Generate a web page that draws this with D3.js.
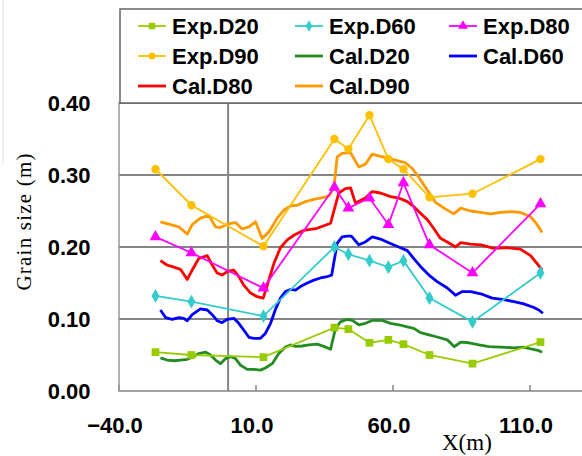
<!DOCTYPE html>
<html><head><meta charset="utf-8">
<script src="https://cdn.jsdelivr.net/npm/d3@7"></script>
<style>body{margin:0;background:#fff}svg{display:block}</style>
</head><body>
<svg id="c" width="582" height="456"></svg>
<script>
// ---- data ----
const xTicks = [-40, 10, 60, 110];
const yTicks = [0.0, 0.1, 0.2, 0.3, 0.4];
const expX = [-26.5, -13.4, 12.9, 38.8, 43.9, 51.6, 58.5, 64.0, 73.5, 89.2, 114.0];
const expD20 = [0.054, 0.050, 0.047, 0.088, 0.086, 0.067, 0.071, 0.065, 0.050, 0.038, 0.068];
const expD60 = [0.132, 0.124, 0.104, 0.200, 0.190, 0.181, 0.172, 0.181, 0.129, 0.096, 0.164];
const expD80 = [0.214, 0.192, 0.143, 0.283, 0.254, 0.268, 0.231, 0.289, 0.203, 0.164, 0.260];
const expD90 = [0.308, 0.258, 0.201, 0.350, 0.336, 0.383, 0.322, 0.308, 0.269, 0.274, 0.322];
const calD20 = [[-24.7,0.046],[-22.3,0.043],[-19.8,0.042],[-17.4,0.043],[-14.9,0.044],[-13.1,0.047],[-10.7,0.052],[-8.2,0.054],[-6.4,0.050],[-4.6,0.043],[-2.8,0.038],[-0.9,0.045],[0.9,0.048],[2.7,0.045],[4.5,0.036],[7.0,0.030],[9.4,0.030],[11.8,0.029],[13.6,0.032],[16.1,0.038],[18.5,0.052],[20.9,0.061],[22.8,0.064],[24.6,0.062],[27.0,0.0625],[29.5,0.064],[32.5,0.065],[34.9,0.062],[37.4,0.058],[39.2,0.087],[41.0,0.096],[43.5,0.0996],[45.3,0.098],[47.7,0.092],[50.1,0.094],[52.6,0.098],[56.2,0.098],[59.3,0.094],[62.3,0.092],[65.4,0.089],[67.8,0.087],[70.2,0.081],[73.3,0.078],[76.3,0.075],[80.0,0.071],[82.6,0.0615],[84.9,0.068],[87.9,0.067],[91.6,0.064],[95.2,0.0615],[99.5,0.061],[104.3,0.060],[107.9,0.061],[111.0,0.058],[113.4,0.056],[114.6,0.054]];
const calD60 = [[-24.7,0.1125],[-22.8,0.102],[-20.4,0.0996],[-18.0,0.102],[-16.2,0.101],[-14.9,0.0976],[-13.1,0.106],[-10.1,0.114],[-7.6,0.1125],[-5.8,0.106],[-4.0,0.0976],[-2.2,0.095],[-0.3,0.0996],[2.1,0.101],[3.9,0.094],[5.7,0.0847],[7.6,0.0746],[9.4,0.0732],[11.8,0.0732],[13.6,0.080],[15.5,0.094],[17.3,0.1135],[19.1,0.129],[20.9,0.138],[22.8,0.141],[24.6,0.140],[26.4,0.145],[28.9,0.150],[31.3,0.154],[33.7,0.157],[36.2,0.159],[37.8,0.161],[39.8,0.205],[41.6,0.214],[43.5,0.215],[45.0,0.215],[47.7,0.203],[50.1,0.207],[52.6,0.214],[55.6,0.211],[58.6,0.206],[62.3,0.200],[65.4,0.195],[67.8,0.184],[70.2,0.173],[73.3,0.161],[76.3,0.152],[80.0,0.143],[83.0,0.133],[85.4,0.138],[88.5,0.138],[92.2,0.135],[96.4,0.129],[100.6,0.127],[104.3,0.124],[107.9,0.121],[111.6,0.116],[113.4,0.1125],[114.9,0.108]];
const calD80 = [[-24.7,0.181],[-22.3,0.175],[-19.8,0.172],[-17.4,0.169],[-14.9,0.155],[-13.1,0.168],[-10.7,0.184],[-7.6,0.188],[-5.8,0.175],[-4.0,0.164],[-2.2,0.161],[-0.3,0.166],[2.1,0.168],[3.9,0.159],[5.7,0.147],[8.2,0.136],[10.6,0.131],[12.8,0.129],[14.3,0.147],[16.7,0.177],[19.1,0.199],[21.6,0.210],[24.3,0.217],[27.5,0.223],[32.5,0.226],[37.4,0.233],[40.4,0.275],[42.8,0.281],[44.7,0.282],[46.5,0.261],[50.1,0.268],[52.6,0.277],[55.6,0.275],[59.3,0.270],[62.3,0.268],[65.4,0.263],[67.8,0.256],[70.2,0.247],[72.7,0.238],[75.0,0.226],[77.5,0.212],[80.0,0.207],[83.0,0.200],[84.9,0.206],[88.5,0.204],[92.2,0.203],[97.0,0.198],[101.9,0.199],[106.7,0.197],[110.4,0.188],[112.8,0.177],[114.6,0.168]];
const calD90 = [[-24.7,0.235],[-21.0,0.231],[-18.0,0.228],[-14.9,0.218],[-13.1,0.231],[-10.1,0.240],[-7.0,0.244],[-4.6,0.228],[-2.8,0.227],[-0.1,0.232],[2.7,0.234],[5.1,0.225],[7.6,0.228],[10.0,0.235],[12.4,0.212],[14.9,0.221],[17.9,0.240],[20.3,0.251],[22.8,0.257],[25.2,0.258],[28.2,0.263],[31.3,0.266],[34.9,0.269],[36.8,0.271],[38.6,0.282],[39.8,0.325],[41.6,0.330],[44.7,0.331],[47.7,0.311],[50.1,0.315],[52.6,0.329],[55.6,0.326],[58.6,0.323],[61.7,0.320],[64.7,0.317],[67.2,0.309],[69.6,0.297],[72.7,0.279],[75.7,0.262],[78.8,0.254],[82.4,0.246],[84.9,0.254],[88.5,0.250],[92.2,0.248],[95.8,0.246],[99.4,0.248],[103.1,0.249],[106.7,0.248],[110.4,0.242],[112.8,0.231],[114.6,0.220]];

const expSeries = [
  {name:"Exp.D20", vals:expD20, color:"#99CC00", sym:d3.symbolSquare, size:60},
  {name:"Exp.D60", vals:expD60, color:"#33CCCC", sym:d3.symbolDiamond, size:55},
  {name:"Exp.D80", vals:expD80, color:"#FF00FF", sym:d3.symbolTriangle, size:60},
  {name:"Exp.D90", vals:expD90, color:"#FFC000", sym:d3.symbolCircle, size:55}
];
const calSeries = [
  {name:"Cal.D20", pts:calD20, color:"#228B22"},
  {name:"Cal.D60", pts:calD60, color:"#0000FF"},
  {name:"Cal.D80", pts:calD80, color:"#FF0000"},
  {name:"Cal.D90", pts:calD90, color:"#FF9900"}
];

// ---- scales ----
const svg = d3.select("#c");
const x = d3.scaleLinear().domain([-40, 130]).range([118.5, 584.3]);
const y = d3.scaleLinear().domain([0, 0.4]).range([391, 103]);

svg.append("rect").attr("width",582).attr("height",456).attr("fill","#fff");
// faint crop edge top-left
svg.append("line").attr("x1",3).attr("x2",3).attr("y1",0).attr("y2",163).attr("stroke","#ddd").attr("stroke-width",1);

// gridlines
svg.append("g").selectAll("line").data(yTicks.filter(d=>d>0)).join("line")
  .attr("x1", x(-40)).attr("x2", 582).attr("y1", d=>y(d)).attr("y2", d=>y(d))
  .attr("stroke","#858585").attr("stroke-width",2);
// vertical line at x=0
svg.append("line").attr("x1",x(0)).attr("x2",x(0)).attr("y1",y(0.4)).attr("y2",y(0))
  .attr("stroke","#858585").attr("stroke-width",2);

// x axis
const xAxis = svg.append("g").attr("transform",`translate(0,${y(0)})`)
  .call(d3.axisBottom(x).tickValues(xTicks).tickSizeInner(-6).tickSizeOuter(0)
    .tickFormat(d => (d<0?"\u2212":"") + Math.abs(d).toFixed(1)));
xAxis.select(".domain").attr("stroke","#858585").attr("stroke-width",1.5).attr("d",`M${x(-40)},0H582`);
xAxis.selectAll(".tick line").attr("stroke","#858585").attr("stroke-width",1.5);
xAxis.selectAll(".tick text").attr("y",42).attr("dy",0).attr("dx",-4)
  .attr("font-family","'Liberation Sans',Arial,sans-serif").attr("font-weight","bold")
  .attr("font-size",22).attr("fill","#000");

// y axis
const yAxis = svg.append("g").attr("transform",`translate(${x(-40)},0)`)
  .call(d3.axisLeft(y).tickValues(yTicks).tickSize(0).tickPadding(28).tickFormat(d3.format(".2f")));
yAxis.select(".domain").attr("stroke","#999").attr("stroke-width",1.5);
yAxis.selectAll(".tick text").attr("dy","0.36em")
  .attr("font-family","'Liberation Sans',Arial,sans-serif").attr("font-weight","bold")
  .attr("font-size",22).attr("fill","#000");

// axis titles
svg.append("text").attr("transform","translate(31,222) rotate(-90)").attr("text-anchor","middle")
  .attr("font-family","'Liberation Serif','Times New Roman',serif").attr("font-size",21)
  .attr("textLength",137).attr("lengthAdjust","spacing").text("Grain size (m)");
svg.append("text").attr("x",442).attr("y",450)
  .attr("font-family","'Liberation Serif','Times New Roman',serif").attr("font-size",23).text("X(m)");

// series: calculated lines
const line = d3.line().x(d=>x(d[0])).y(d=>y(d[1]));
calSeries.forEach(s=>{
  svg.append("path").datum(s.pts).attr("d",line).attr("fill","none")
    .attr("stroke",s.color).attr("stroke-width",2.8).attr("stroke-linejoin","round");
});
// experimental lines + markers
expSeries.forEach(s=>{
  const pts = expX.map((xv,i)=>[xv, s.vals[i]]);
  svg.append("path").datum(pts).attr("d",line).attr("fill","none")
    .attr("stroke",s.color).attr("stroke-width",1.8);
  svg.append("g").selectAll("path").data(pts).join("path")
    .attr("transform",d=>`translate(${x(d[0])},${y(d[1])})`)
    .attr("d", d3.symbol().type(s.sym).size(s.size)).attr("fill",s.color);
});

// legend
const lg = svg.append("g");
lg.append("rect").attr("x",120).attr("y",9).attr("width",470).attr("height",94)
  .attr("fill","#fff").attr("stroke","#666").attr("stroke-width",1.5);
const legendItems = [
  {s:expSeries[0], exp:true},{s:expSeries[1], exp:true},{s:expSeries[2], exp:true},
  {s:expSeries[3], exp:true},{s:calSeries[0], exp:false},{s:calSeries[1], exp:false},
  {s:calSeries[2], exp:false},{s:calSeries[3], exp:false}
];
const colX = [138, 295, 449];
const rowY = [26, 56, 86];
legendItems.forEach((it,i)=>{
  const cx = colX[i%3], cy = rowY[Math.floor(i/3)];
  const g = lg.append("g");
  g.append("line").attr("x1",cx).attr("x2",cx+28).attr("y1",cy).attr("y2",cy)
    .attr("stroke",it.s.color).attr("stroke-width",it.exp?1.8:2.8);
  if (it.exp) g.append("path").attr("transform",`translate(${cx+14},${cy})`)
    .attr("d",d3.symbol().type(it.s.sym).size(it.s.size*0.7)).attr("fill",it.s.color);
  g.append("text").attr("x",cx+34).attr("y",cy).attr("dy","0.36em")
    .attr("font-family","'Liberation Sans',Arial,sans-serif").attr("font-weight","bold")
    .attr("font-size",22).attr("fill","#000").text(it.s.name);
});
</script>
</body></html>
